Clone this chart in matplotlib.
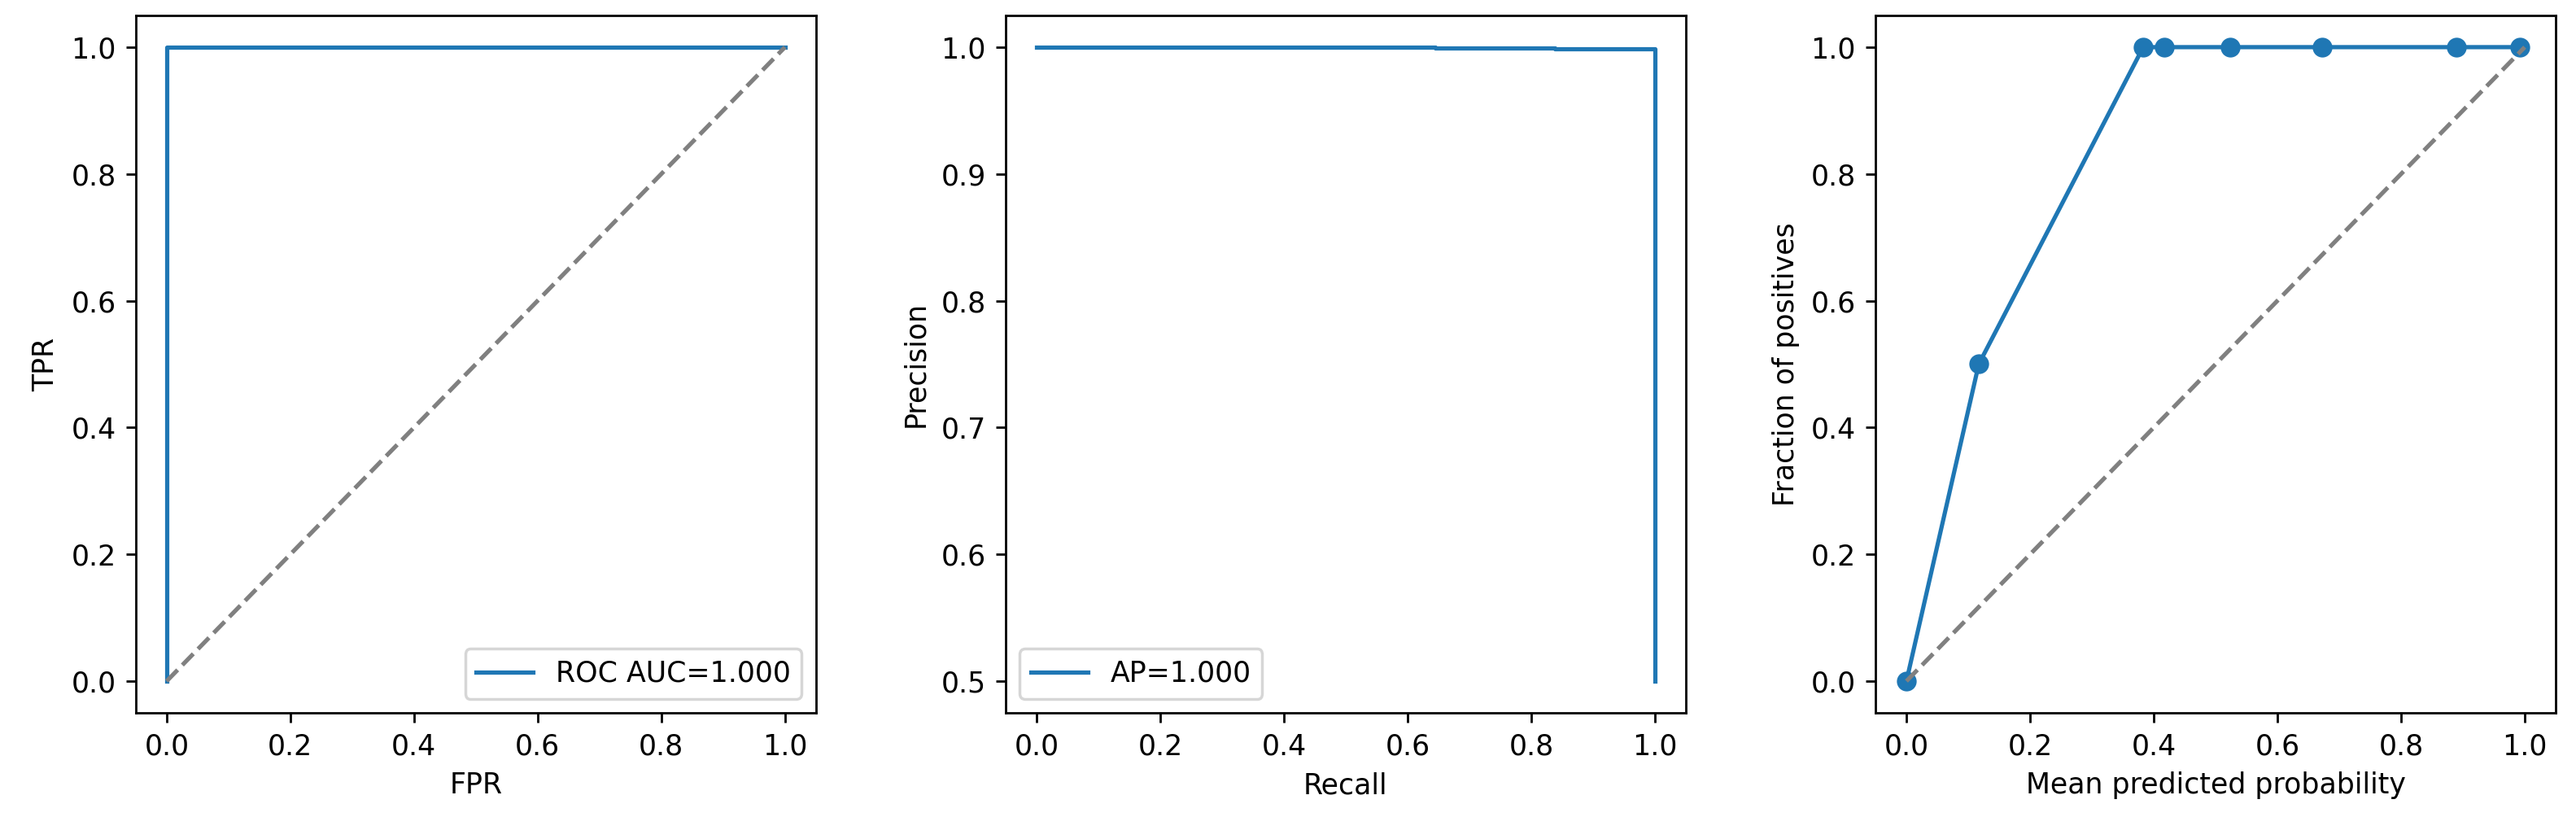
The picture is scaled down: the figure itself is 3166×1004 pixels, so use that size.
import matplotlib
matplotlib.use("Agg")
import matplotlib.pyplot as plt

# ROC data
fpr = [0.0, 0.0, 1.0]
tpr = [0.0, 1.0, 1.0]
roc_label = "ROC AUC=1.000"

# Precision-recall data
recall = [0.0, 0.645, 0.838, 1.0, 1.0]
precision = [1.0, 0.9994, 0.9989, 0.9989, 0.5]
pr_label = "AP=1.000"

# Calibration data
mean_pred = [0.0, 0.117, 0.383, 0.417, 0.523, 0.672, 0.889, 0.992]
frac_pos = [0.0, 0.5, 1.0, 1.0, 1.0, 1.0, 1.0, 1.0]

diag = [0.0, 1.0]

fig, axes = plt.subplots(1, 3, figsize=(12.664, 4.016), dpi=250)
fig.subplots_adjust(left=0.0527, right=0.9921, bottom=0.1275, top=0.9811, wspace=0.279)

ax = axes[0]
ax.plot(fpr, tpr, label=roc_label)
ax.plot(diag, diag, linestyle="--", color="gray")
ax.set_xlabel("FPR")
ax.set_ylabel("TPR")
ax.legend(loc="lower right")

ax = axes[1]
ax.step(recall, precision, where="post", label=pr_label)
ax.set_xlabel("Recall")
ax.set_ylabel("Precision")
ax.legend(loc="lower left")

ax = axes[2]
ax.plot(mean_pred, frac_pos, marker="o")
ax.plot(diag, diag, linestyle="--", color="gray")
ax.set_xlabel("Mean predicted probability")
ax.set_ylabel("Fraction of positives")

fig.savefig("out.png", dpi=250)
